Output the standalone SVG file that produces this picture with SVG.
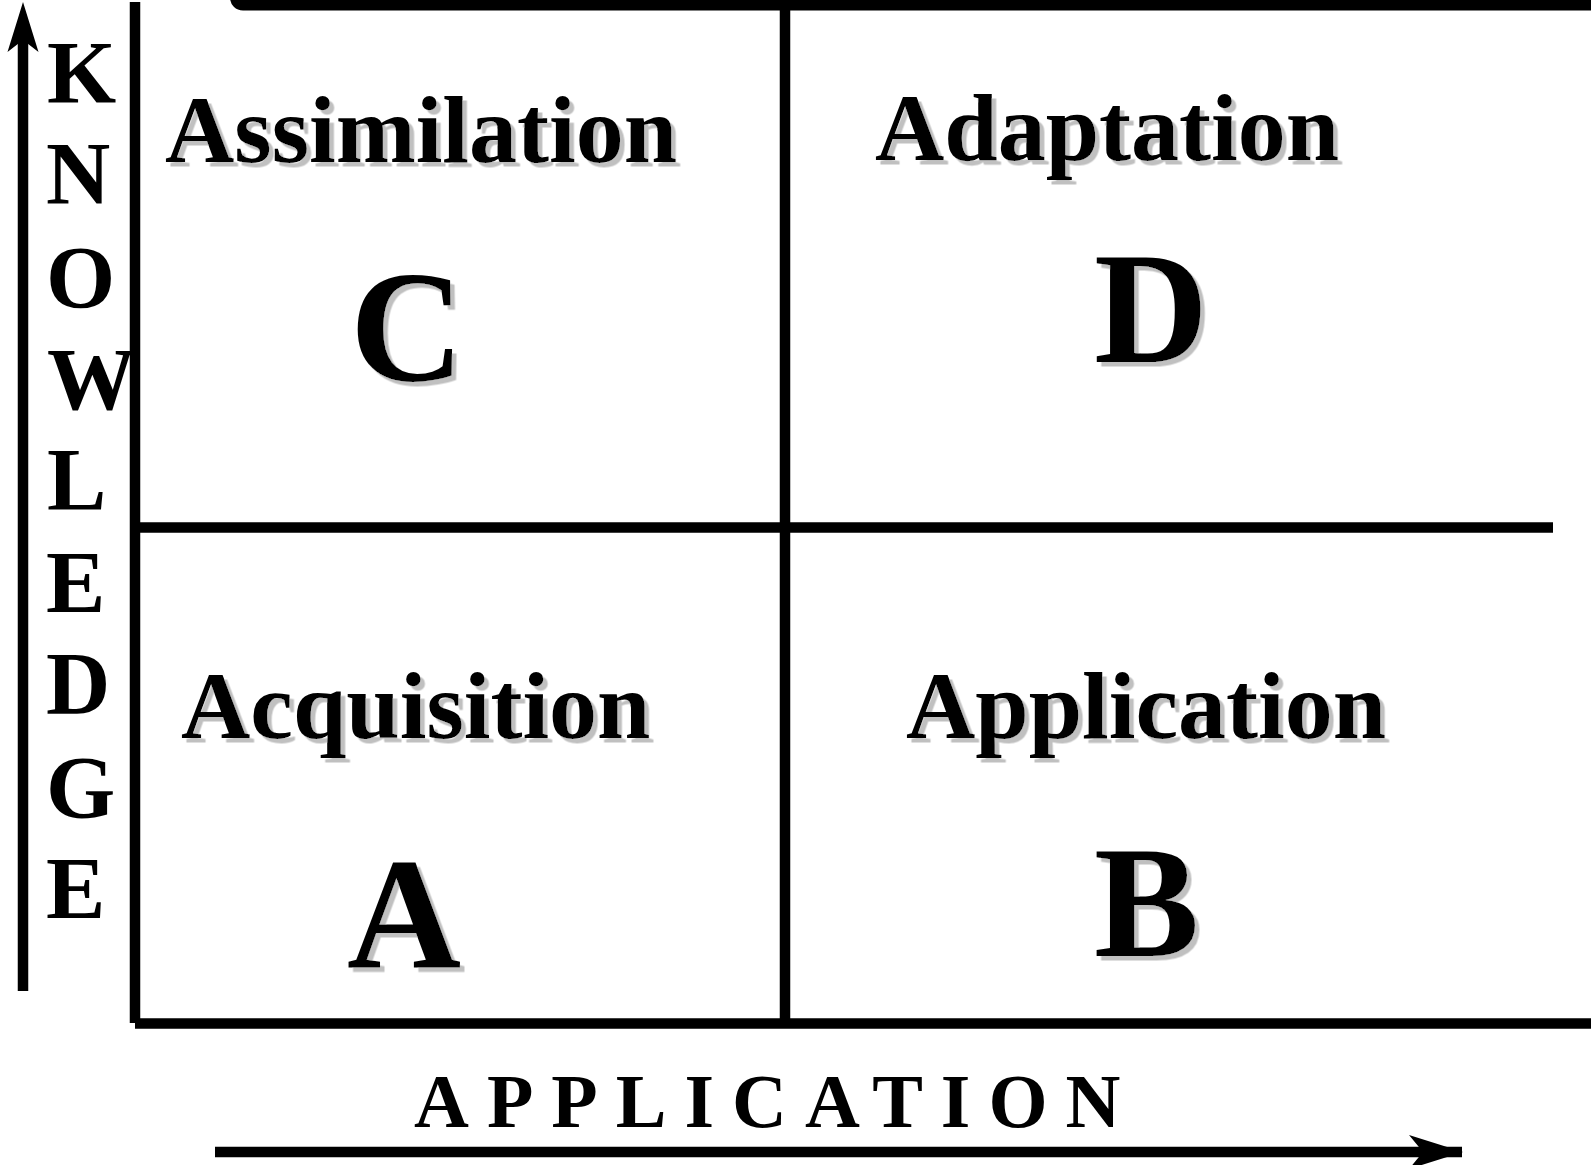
<svg xmlns="http://www.w3.org/2000/svg" width="1591" height="1165" viewBox="0 0 1591 1165">
<style>
.t{font-family:"Liberation Serif","Times New Roman",serif;font-weight:bold;fill:#000;filter:url(#shadow)}
.q{font-size:96px}
.big{font-size:158px}
.ax{font-family:"Liberation Serif","Times New Roman",serif;font-weight:bold;fill:#000;font-size:89px}
.ln{stroke:#000;stroke-width:10.5;fill:none}
</style>
<defs>
<filter id="shadow" x="-5%" y="-5%" width="115%" height="125%">
<feDropShadow dx="4.5" dy="4.5" stdDeviation="0" flood-color="#c0c0c0" flood-opacity="1"/>
</filter>
<marker id="ah" viewBox="0 0 54 34" refX="53" refY="17" markerWidth="54" markerHeight="34" markerUnits="userSpaceOnUse" orient="auto">
<polygon points="0,0 54,17 0,34 14,17" fill="#000"/>
</marker>
</defs>
<rect width="1591" height="1165" fill="#fff"/>
<g id="grid">
<rect x="230" y="-20" width="1400" height="30.5" rx="13" fill="#000"/>
<line class="ln" x1="135" y1="2" x2="135" y2="1023"/>
<line class="ln" x1="135" y1="1023.5" x2="1591" y2="1023.5"/>
<line class="ln" x1="785" y1="5" x2="785" y2="1020"/>
<line class="ln" x1="135" y1="527.5" x2="1553" y2="527.5"/>
</g>
<g id="connectors">
<line class="ln" x1="23" y1="991" x2="23" y2="40"/>
<polygon points="23,2 38.5,52 23,40 7.5,52" fill="#000"/>
<line class="ln" x1="215" y1="1152" x2="1462" y2="1152" marker-end="url(#ah)"/>
</g>
<g id="q-assimilation">
<text class="t q" x="165" y="162">Assimilation</text>
<text class="t big" x="350" y="380">C</text>
</g>
<g id="q-adaptation">
<text class="t q" x="875" y="160">Adaptation</text>
<text class="t big" x="1094" y="362">D</text>
</g>
<g id="q-acquisition">
<text class="t q" x="181" y="738">Acquisition</text>
<text class="t big" x="347" y="968">A</text>
</g>
<g id="q-application">
<text class="t q" x="906" y="738">Application</text>
<text class="t big" x="1094" y="956">B</text>
</g>
<g id="axis-knowledge">
<text class="ax" x="47" y="101.5">K</text>
<text class="ax" x="46" y="203">N</text>
<text class="ax" x="46" y="306.5">O</text>
<text class="ax" x="47" y="409">W</text>
<text class="ax" x="47" y="509">L</text>
<text class="ax" x="46" y="612">E</text>
<text class="ax" x="46" y="713">D</text>
<text class="ax" x="46" y="817">G</text>
<text class="ax" x="46" y="918">E</text>
</g>
<g id="axis-application">
<text class="ax" style="font-size:76px;letter-spacing:18px" x="414" y="1127">APPLICATION</text>
</g>
</svg>
